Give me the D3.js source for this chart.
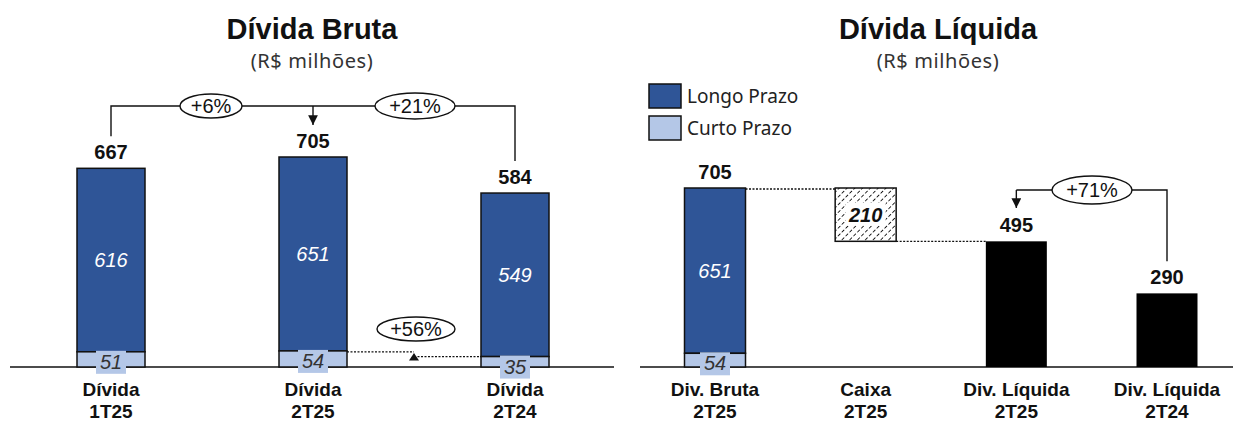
<!DOCTYPE html>
<html>
<head>
<meta charset="utf-8">
<script src="https://cdn.jsdelivr.net/npm/d3@7"></script>
<style>
    body { margin: 0; background: #fff; }
    svg { display: block; font-family: "Liberation Sans", Arial, sans-serif; }
    .title { font-weight: bold; font-size: 29px; fill: #111; }
    .subtitle { font-family: "Noto Sans", "Liberation Sans", sans-serif; font-size: 20px; fill: #333; letter-spacing: 0.6px; }
    .legend { font-family: "Noto Sans", "Liberation Sans", sans-serif; font-size: 19px; fill: #222; }
    .total { font-weight: bold; font-size: 20px; fill: #111; }
    .cat { font-weight: bold; font-size: 19px; fill: #111; }
    .seg { font-style: italic; font-size: 20px; }
    .pct { font-size: 20px; fill: #111; }
</style>
</head>
<body>
<svg id="chart" width="1233" height="423"></svg>
<script>
// Dívida Bruta
const brutaCats = ["Dívida|1T25", "Dívida|2T25", "Dívida|2T24"];
const brutaLongo = [616, 651, 549];
const brutaCurto = [51, 54, 35];
const brutaTotal = [667, 705, 584];

// Dívida Líquida
const liqCats = ["Div. Bruta|2T25", "Caixa|2T25", "Div. Líquida|2T25", "Div. Líquida|2T24"];
const liqLongo = [651];
const liqCurto = [54];
const liqBruta = 705;
const liqCaixa = 210;
const liqLiquida = [495, 290];

const variations = ["+6%", "+21%", "+56%", "+71%"];
const legendItems = ["Longo Prazo", "Curto Prazo"];

const DARK = "#2f5597";
const LIGHT = "#b4c7e7";
const baseY = 367;

const svg = d3.select("#chart");

// hatch pattern for Caixa
const defs = svg.append("defs");
const pat = defs.append("pattern")
    .attr("id", "hatch")
    .attr("patternUnits", "userSpaceOnUse")
    .attr("width", 5.5).attr("height", 5.5)
    .attr("patternTransform", "rotate(45)");
pat.append("line")
    .attr("x1", 0).attr("y1", 0).attr("x2", 0).attr("y2", 5.5)
    .attr("stroke", "#000").attr("stroke-width", 1.7)
    .attr("stroke-dasharray", "3.5,2");

defs.append("marker")
    .attr("id", "arrow")
    .attr("viewBox", "0 0 10 10")
    .attr("refX", 10).attr("refY", 5)
    .attr("markerWidth", 7).attr("markerHeight", 7)
    .attr("orient", "auto")
    .append("path")
    .attr("d", "M0,0 L10,5 L0,10 z")
    .attr("fill", "#111");

// two-line category label, lines split on "|"
function catLabel(g, x, label) {
    const parts = label.split("|");
    const t = g.append("text").attr("class", "cat")
        .attr("text-anchor", "middle")
        .attr("x", x).attr("y", 396);
    t.append("tspan").attr("x", x).text(parts[0]);
    t.append("tspan").attr("x", x).attr("dy", 22).text(parts[1]);
}

function pctBubble(g, cx, cy, w, h, text) {
    g.append("ellipse")
        .attr("cx", cx).attr("cy", cy)
        .attr("rx", w / 2).attr("ry", h / 2)
        .attr("fill", "#fff").attr("stroke", "#111").attr("stroke-width", 1.4);
    g.append("text").attr("class", "pct")
        .attr("x", cx).attr("y", cy + 7)
        .attr("text-anchor", "middle")
        .text(text);
}

function curtoLabel(g, x, yTop, v) {
    g.append("rect")
        .attr("x", x - 15).attr("y", yTop - 1)
        .attr("width", 30).attr("height", 23)
        .attr("fill", LIGHT);
    g.append("text").attr("class", "seg")
        .attr("x", x).attr("y", yTop + 17)
        .attr("text-anchor", "middle")
        .attr("fill", "#333")
        .text(v);
}

function dotted(g, xa, xb, y) {
    g.append("line")
        .attr("x1", xa).attr("x2", xb).attr("y1", y).attr("y2", y)
        .attr("stroke", "#111").attr("stroke-width", 1.3)
        .attr("stroke-dasharray", "2,1.5");
}

// ---------- left panel ----------
const left = svg.append("g");

// baseline first so the labels sit on top
left.append("line")
    .attr("x1", 10).attr("x2", 614).attr("y1", baseY).attr("y2", baseY)
    .attr("stroke", "#111").attr("stroke-width", 1.5);

left.append("text").attr("class", "title")
    .attr("x", 312).attr("y", 39).attr("text-anchor", "middle").text("Dívida Bruta");
left.append("text").attr("class", "subtitle")
    .attr("x", 312).attr("y", 68).attr("text-anchor", "middle").text("(R$ milhões)");

const xL = d3.scalePoint().domain(brutaCats).range([111, 515]);
const yL = d3.scaleLinear().domain([0, 705]).range([baseY, 157]);
const bwL = 68;

brutaCats.forEach((c, i) => {
    const x = xL(c);
    const yTop = yL(brutaTotal[i]);
    const yMid = yL(brutaCurto[i]);
    left.append("rect")
        .attr("x", x - bwL / 2).attr("y", yTop)
        .attr("width", bwL).attr("height", yMid - yTop)
        .attr("fill", DARK).attr("stroke", "#111").attr("stroke-width", 1.5);
    left.append("rect")
        .attr("x", x - bwL / 2).attr("y", yMid)
        .attr("width", bwL).attr("height", baseY - yMid)
        .attr("fill", LIGHT).attr("stroke", "#111").attr("stroke-width", 1.5);
    left.append("text").attr("class", "seg")
        .attr("x", x).attr("y", (yTop + yMid) / 2 + 7)
        .attr("text-anchor", "middle").attr("fill", "#fff")
        .text(brutaLongo[i]);
    curtoLabel(left, x, yMid, brutaCurto[i]);
    left.append("text").attr("class", "total")
        .attr("x", x).attr("y", yTop - 9)
        .attr("text-anchor", "middle").text(brutaTotal[i]);
    catLabel(left, x, c);
});

// bracket on top
const brY = 106;
const x0 = xL(brutaCats[0]), x1 = xL(brutaCats[1]), x2 = xL(brutaCats[2]);
left.append("path")
    .attr("d", `M${x0},${yL(brutaTotal[0]) - 32} V${brY} H${x2} V${yL(brutaTotal[2]) - 32}`)
    .attr("fill", "none").attr("stroke", "#111").attr("stroke-width", 1.4);
left.append("line")
    .attr("x1", x1).attr("y1", brY).attr("x2", x1).attr("y2", brY + 19)
    .attr("stroke", "#111").attr("stroke-width", 1.4)
    .attr("marker-end", "url(#arrow)");
pctBubble(left, 211, brY, 62, 24, variations[0]);
pctBubble(left, 415, brY, 80, 26, variations[1]);

// curto prazo comparison
const ax = (x1 + x2) / 2;
const yc1 = yL(brutaCurto[1]) + 1, yc2 = yL(brutaCurto[2]);
dotted(left, x1 + bwL / 2, ax, yc1);
dotted(left, ax, x2 - bwL / 2, yc2);
left.append("path")
    .attr("d", `M${ax - 5},${yc2 + 4} L${ax},${yc1 + 1} L${ax + 5},${yc2 + 4} Z`)
    .attr("fill", "#111");
pctBubble(left, ax + 2, 329, 78, 24, variations[2]);

// ---------- right panel ----------
const right = svg.append("g");

right.append("line")
    .attr("x1", 640).attr("x2", 1233).attr("y1", baseY).attr("y2", baseY)
    .attr("stroke", "#111").attr("stroke-width", 1.5);

right.append("text").attr("class", "title")
    .attr("x", 938).attr("y", 39).attr("text-anchor", "middle").text("Dívida Líquida");
right.append("text").attr("class", "subtitle")
    .attr("x", 938).attr("y", 68).attr("text-anchor", "middle").text("(R$ milhões)");

// legend
legendItems.forEach((d, i) => {
    right.append("rect")
        .attr("x", 649).attr("y", 84 + i * 32)
        .attr("width", 32).attr("height", 24)
        .attr("fill", i === 0 ? DARK : LIGHT)
        .attr("stroke", "#111").attr("stroke-width", 1.5);
    right.append("text").attr("class", "legend")
        .attr("x", 687).attr("y", 103 + i * 32)
        .text(d);
});

const xR = d3.scalePoint().domain(liqCats).range([715, 1167]);
const yR = d3.scaleLinear().domain([0, 705]).range([baseY, 188]);
const bwR = 61;

// Div. Bruta stacked
{
    const x = xR(liqCats[0]);
    const yTop = yR(liqBruta);
    const yMid = yR(liqCurto[0]);
    right.append("rect")
        .attr("x", x - bwR / 2).attr("y", yTop)
        .attr("width", bwR).attr("height", yMid - yTop)
        .attr("fill", DARK).attr("stroke", "#111").attr("stroke-width", 1.5);
    right.append("rect")
        .attr("x", x - bwR / 2).attr("y", yMid)
        .attr("width", bwR).attr("height", baseY - yMid)
        .attr("fill", LIGHT).attr("stroke", "#111").attr("stroke-width", 1.5);
    right.append("text").attr("class", "seg")
        .attr("x", x).attr("y", (yTop + yMid) / 2 + 7)
        .attr("text-anchor", "middle").attr("fill", "#fff")
        .text(liqLongo[0]);
    curtoLabel(right, x, yMid, liqCurto[0]);
    right.append("text").attr("class", "total")
        .attr("x", x).attr("y", yTop - 9)
        .attr("text-anchor", "middle").text(liqBruta);
}

// Caixa floating box
{
    const x = xR(liqCats[1]);
    const yTop = yR(liqBruta);
    const yBot = yR(liqBruta - liqCaixa);
    right.append("rect")
        .attr("x", x - bwR / 2).attr("y", yTop)
        .attr("width", bwR).attr("height", yBot - yTop)
        .attr("fill", "url(#hatch)").attr("stroke", "#111").attr("stroke-width", 1.5);
    right.append("rect")
        .attr("x", x - 20).attr("y", (yTop + yBot) / 2 - 12)
        .attr("width", 40).attr("height", 23)
        .attr("fill", "#fff");
    right.append("text").attr("class", "seg")
        .attr("x", x).attr("y", (yTop + yBot) / 2 + 7)
        .attr("text-anchor", "middle").attr("fill", "#111")
        .attr("font-weight", "bold").attr("font-size", 21)
        .text(liqCaixa);
    dotted(right, xR(liqCats[0]) + bwR / 2, x - bwR / 2, yTop + 1);
    dotted(right, x + bwR / 2, xR(liqCats[2]) - bwR / 2, yBot);
}

// Div. Líquida bars
liqLiquida.forEach((v, i) => {
    const x = xR(liqCats[2 + i]);
    right.append("rect")
        .attr("x", x - bwR / 2).attr("y", yR(v))
        .attr("width", bwR).attr("height", baseY - yR(v))
        .attr("fill", "#000");
    right.append("text").attr("class", "total")
        .attr("x", x).attr("y", yR(v) - 9)
        .attr("text-anchor", "middle").text(v);
});

liqCats.forEach(c => catLabel(right, xR(c), c));

// +71% bracket
{
    const xa = xR(liqCats[2]), xb = xR(liqCats[3]);
    const by = 190;
    right.append("path")
        .attr("d", `M${xa},${by} H${xb} V${yR(liqLiquida[1]) - 32}`)
        .attr("fill", "none").attr("stroke", "#111").attr("stroke-width", 1.4);
    right.append("line")
        .attr("x1", xa).attr("y1", by).attr("x2", xa).attr("y2", by + 18)
        .attr("stroke", "#111").attr("stroke-width", 1.4)
        .attr("marker-end", "url(#arrow)");
    pctBubble(right, 1092, by, 80, 28, variations[3]);
}
</script>
</body>
</html>
